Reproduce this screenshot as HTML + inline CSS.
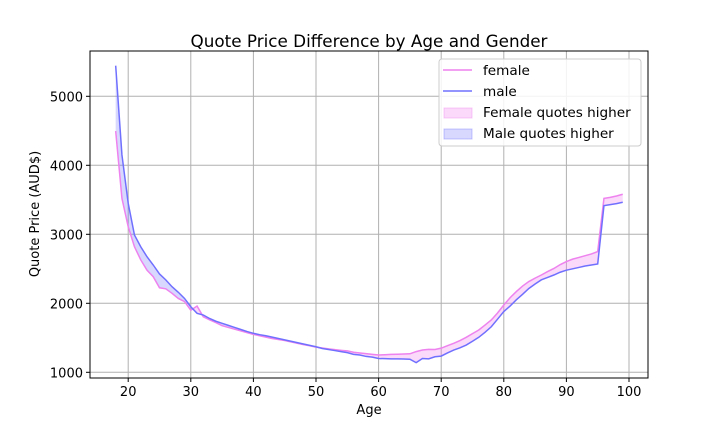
<!DOCTYPE html>
<html><head><meta charset="utf-8"><style>
body{margin:0;background:#fff;}
svg{display:block;font-family:"DejaVu Sans","Liberation Sans",sans-serif;}
</style></head><body>
<svg id="chart" width="720" height="432" viewBox="0 0 720 432">
<rect width="720" height="432" fill="#fff"/>
<g id="grid"></g>
<g id="fills"></g>
<g id="lines"></g>
<rect x="90" y="51" width="558" height="327" fill="none" stroke="#000" stroke-width="1"/>
<g id="ticks"></g>
<text x="369" y="47" text-anchor="middle" font-size="16.8">Quote Price Difference by Age and Gender</text>
<text x="369" y="414" text-anchor="middle" font-size="13">Age</text>
<text transform="translate(39,214) rotate(-90)" text-anchor="middle" font-size="13">Quote Price (AUD$)</text>
<g>
<rect x="439" y="59" width="202" height="87" rx="3" fill="#fff" fill-opacity="0.85" stroke="#ccc"/>
<g><line x1="443" y1="70" x2="472" y2="70" stroke="#ee82ee" stroke-width="1.5"/><text x="483" y="75" font-size="13.6">female</text></g>
<g><line x1="443" y1="91" x2="472" y2="91" stroke="#7070ff" stroke-width="1.5"/><text x="483" y="96" font-size="13.6">male</text></g>
<g><rect x="444" y="108" width="28" height="10" fill="rgba(238,130,238,0.3)" stroke="rgba(238,130,238,0.4)"/><text x="483" y="117" font-size="13.6">Female quotes higher</text></g>
<g><rect x="444" y="129" width="28" height="10" fill="rgba(100,100,255,0.25)" stroke="rgba(100,100,255,0.35)"/><text x="483" y="138" font-size="13.6">Male quotes higher</text></g>
</g>
</svg>
<script>
const ages=[18,19,20,21,22,23,24,25,26,27,28,29,30,31,32,33,34,35,36,37,38,39,40,41,42,43,44,45,46,47,48,49,50,51,52,53,54,55,56,57,58,59,60,61,62,63,64,65,66,67,68,69,70,71,72,73,74,75,76,77,78,79,80,81,82,83,84,85,86,87,88,89,90,91,92,93,94,95,96,97,98,99];
const female=[4497,3520,3110,2820,2630,2480,2385,2225,2210,2145,2070,2025,1900,1960,1805,1760,1720,1675,1650,1625,1600,1575,1550,1530,1510,1490,1475,1460,1440,1420,1400,1385,1365,1352,1340,1328,1318,1310,1290,1280,1270,1260,1250,1255,1260,1262,1265,1268,1300,1323,1333,1330,1350,1385,1420,1460,1507,1560,1613,1685,1758,1860,1975,2080,2170,2250,2315,2365,2410,2460,2505,2560,2605,2640,2665,2690,2715,2750,3520,3535,3555,3580];
const male=[5443,4150,3450,2990,2820,2675,2555,2425,2340,2240,2160,2070,1950,1855,1830,1780,1740,1710,1680,1650,1620,1590,1565,1545,1530,1510,1490,1470,1450,1430,1410,1390,1370,1345,1330,1315,1300,1285,1260,1250,1230,1220,1200,1198,1195,1195,1193,1190,1140,1200,1195,1225,1235,1280,1323,1355,1395,1450,1507,1580,1660,1770,1880,1960,2050,2130,2215,2280,2340,2375,2410,2450,2480,2500,2520,2540,2555,2570,3415,3430,3445,3465];
const xTicks=[20,30,40,50,60,70,80,90,100];
const yTicks=[1000,2000,3000,4000,5000];
const X=a=>128.2+(a-20)*6.26;
const Y=v=>372.3-(v-1000)*0.069;
const NS="http://www.w3.org/2000/svg";
function mk(tag,attrs,parent){const e=document.createElementNS(NS,tag);for(const k in attrs)e.setAttribute(k,attrs[k]);parent.appendChild(e);return e;}
const grid=document.getElementById('grid'),ticks=document.getElementById('ticks');
xTicks.forEach(t=>{
 const g=mk('line',{x1:X(t),x2:X(t),y1:51,y2:378,stroke:'#b0b0b0','stroke-width':1},grid);
 
 
 const tk=mk('line',{x1:X(t),x2:X(t),y1:378,y2:382,stroke:'#000'},ticks);
 
 
 const tx=mk('text',{x:X(t),y:396,'text-anchor':'middle','font-size':13},ticks);
 tx.textContent=t;
 
 
});
yTicks.forEach(t=>{
 const g=mk('line',{x1:90,x2:648,y1:Y(t),y2:Y(t),stroke:'#b0b0b0','stroke-width':1},grid);
 
 
 const tk=mk('line',{x1:86,x2:90,y1:Y(t),y2:Y(t),stroke:'#000'},ticks);
 
 
 const tx=mk('text',{x:83,y:Y(t)+5,'text-anchor':'end','font-size':13},ticks);
 tx.textContent=t;
 
 
});
const fills=document.getElementById('fills');
for(let i=0;i<ages.length-1;i++){
 const a0=ages[i],a1=ages[i+1],f0=female[i],f1=female[i+1],m0=male[i],m1=male[i+1];
 const d0=f0-m0,d1=f1-m1;
 let segs=[];
 if(d0*d1<0){const t=d0/(d0-d1);const ac=a0+t*(a1-a0),vc=f0+t*(f1-f0);
  segs.push([[a0,f0],[ac,vc],[a0,m0],d0]);segs.push([[ac,vc],[a1,f1],[a1,m1],d1]);}
 else segs.push([[a0,f0],[a1,f1],[a1,m1],[a0,m0],d0+d1]);
 segs.forEach(s=>{const d=s.pop();const pts=s.map(p=>X(p[0]).toFixed(2)+','+Y(p[1]).toFixed(2)).join(' ');
  const p=mk('polygon',{points:pts,fill:d>=0?'rgba(238,130,238,0.3)':'rgba(100,100,255,0.25)',stroke:'none'},fills);
  
  });
}
const lines=document.getElementById('lines');
const fl=mk('polyline',{points:ages.map((a,i)=>X(a)+','+Y(female[i])).join(' '),fill:'none',stroke:'#ee82ee','stroke-width':1.5},lines);


const ml=mk('polyline',{points:ages.map((a,i)=>X(a)+','+Y(male[i])).join(' '),fill:'none',stroke:'#7070ff','stroke-width':1.5},lines);


</script>
</body></html>
